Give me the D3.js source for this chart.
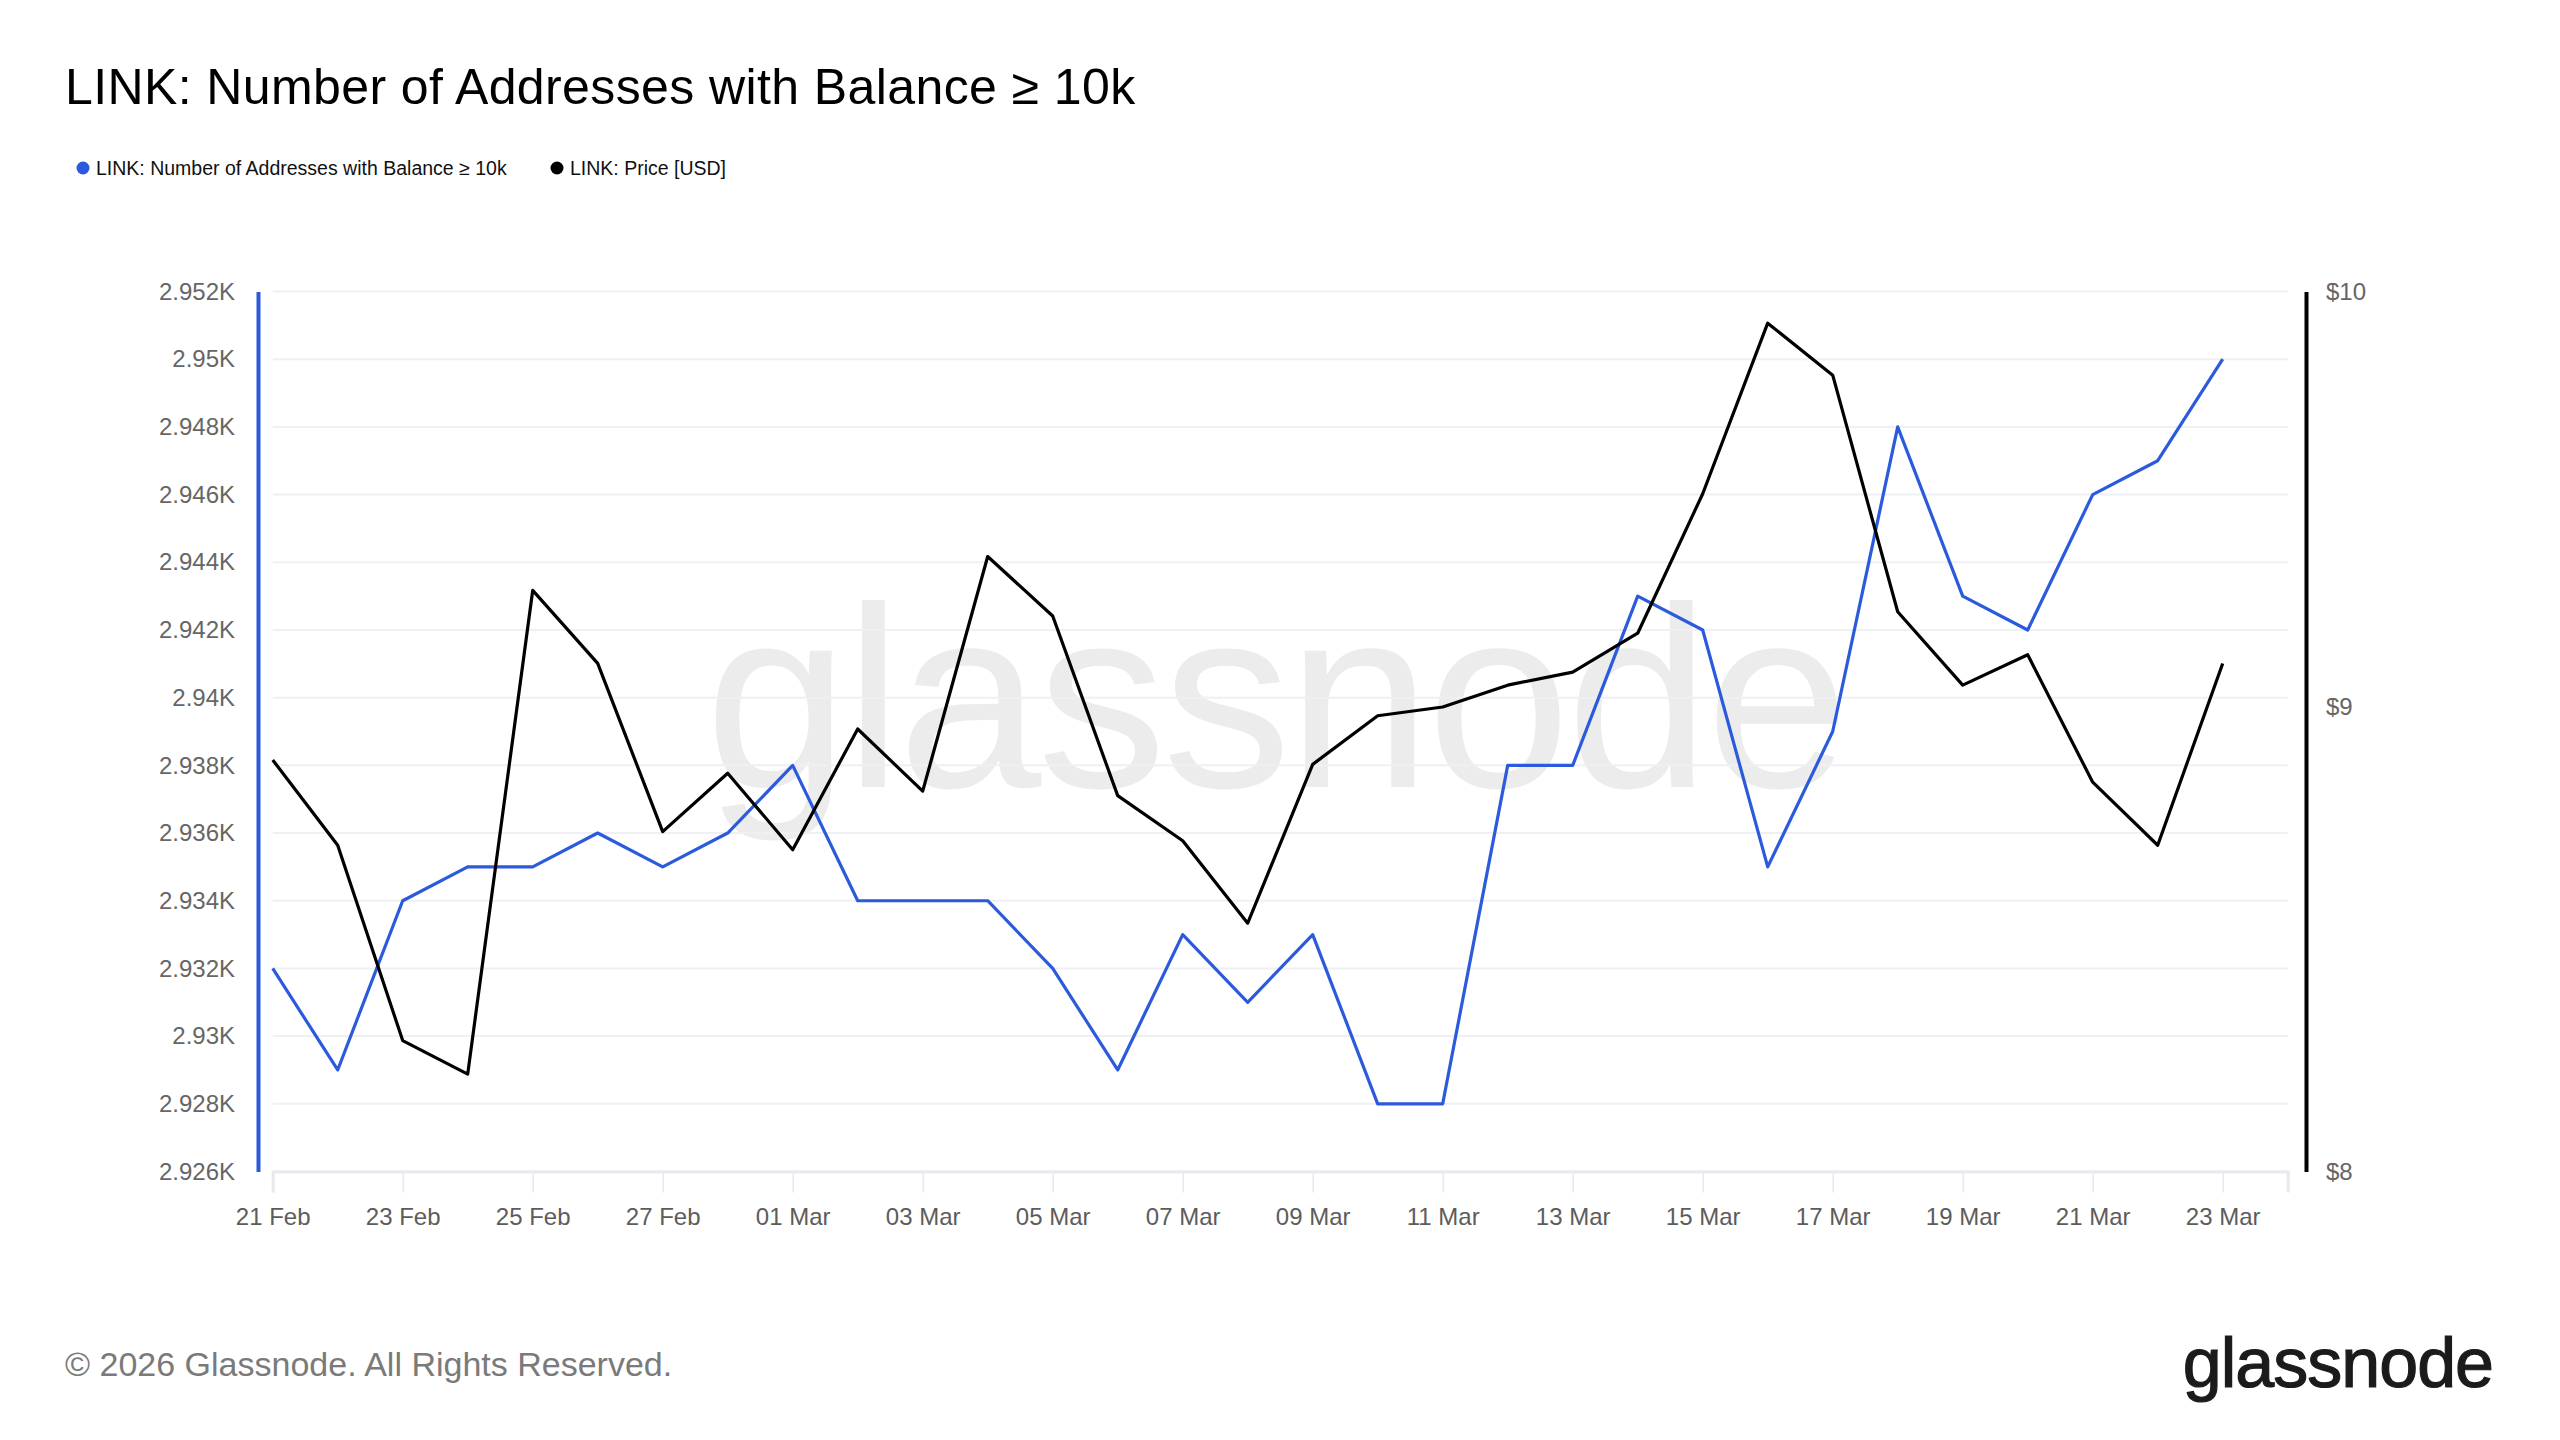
<!DOCTYPE html>
<html>
<head>
<meta charset="utf-8">
<script src="https://cdnjs.cloudflare.com/ajax/libs/d3/7.8.5/d3.min.js"></script>
<style>
	html, body { margin: 0; padding: 0; background: #fff; }
	svg { display: block; font-family: "Liberation Sans", Arial, Helvetica, sans-serif; }
</style>
</head>
<body>
<div id="main"></div>
<script>
// chart data
let dates = ['2026-02-21', '2026-02-22', '2026-02-23', '2026-02-24', '2026-02-25', '2026-02-26', '2026-02-27', '2026-02-28',
	'2026-03-01', '2026-03-02', '2026-03-03', '2026-03-04', '2026-03-05', '2026-03-06', '2026-03-07', '2026-03-08',
	'2026-03-09', '2026-03-10', '2026-03-11', '2026-03-12', '2026-03-13', '2026-03-14', '2026-03-15', '2026-03-16',
	'2026-03-17', '2026-03-18', '2026-03-19', '2026-03-20', '2026-03-21', '2026-03-22', '2026-03-23'];
let addresses = [2932, 2929, 2934, 2935, 2935, 2936, 2935, 2936, 2938, 2934, 2934, 2934, 2932, 2929, 2933, 2931,
	2933, 2928, 2928, 2938, 2938, 2943, 2942, 2935, 2939, 2948, 2943, 2942, 2946, 2947, 2950];
let price = [8.88, 8.69, 8.27, 8.20, 9.27, 9.10, 8.72, 8.85, 8.68, 8.95, 8.81, 9.35, 9.21, 8.80, 8.70, 8.52,
	8.87, 8.98, 9.00, 9.05, 9.08, 9.17, 9.50, 9.92, 9.79, 9.22, 9.05, 9.12, 8.83, 8.69, 9.10];
let xTicks = ['2026-02-21', '2026-02-23', '2026-02-25', '2026-02-27', '2026-03-01', '2026-03-03', '2026-03-05', '2026-03-07',
	'2026-03-09', '2026-03-11', '2026-03-13', '2026-03-15', '2026-03-17', '2026-03-19', '2026-03-21', '2026-03-23'];
let leftTicks = [2926, 2928, 2930, 2932, 2934, 2936, 2938, 2940, 2942, 2944, 2946, 2948, 2950, 2952];
let rightTicks = [8, 9, 10];
let xEnd = '2026-03-24';

let blue = '#2b5bdc';
let width = 2560, height = 1440;
let plotL = 272.7, plotR = 2287.7, plotT = 291.5, plotB = 1171.5;

let parse = d3.utcParse('%Y-%m-%d');
let data = dates.map((d, i) => ({ date: parse(d), addr: addresses[i], price: price[i] }));

let x = d3.scaleUtc().domain([parse(dates[0]), parse(xEnd)]).range([plotL, plotR]);
let yL = d3.scaleLinear().domain([2926, 2952]).range([plotB, plotT]);
// price axis is logarithmic
let yR = d3.scaleLog().domain([8, 10]).range([plotB, plotT]);

let svg = d3.select('#main').append('svg')
	.attr('width', width)
	.attr('height', height);

svg.append('rect').attr('width', width).attr('height', height).attr('fill', '#fff');

// title + legend
svg.append('text')
	.attr('x', 65).attr('y', 104)
	.attr('font-size', 50).attr('fill', '#000')
	.attr('letter-spacing', 0.4)
	.text('LINK: Number of Addresses with Balance ≥ 10k');

let legend = [
	{ label: 'LINK: Number of Addresses with Balance ≥ 10k', color: blue, x: 83 },
	{ label: 'LINK: Price [USD]', color: '#000', x: 557 }
];
let lg = svg.selectAll('.legend').data(legend).enter().append('g').attr('class', 'legend');
lg.append('circle').attr('cx', d => d.x).attr('cy', 168).attr('r', 6.5).attr('fill', d => d.color);
lg.append('text').attr('x', d => d.x + 13).attr('y', 174.5).attr('font-size', 19.5).attr('fill', '#111')
	.text(d => d.label);

// watermark
svg.append('text')
	.attr('x', (plotL + plotR) / 2 - 5).attr('y', 787)
	.attr('text-anchor', 'middle')
	.attr('font-size', 258).attr('fill', '#ececec')
	.attr('letter-spacing', -4)
	.text('glassnode');

// grid
svg.append('g').selectAll('line').data(leftTicks).enter().append('line')
	.attr('x1', plotL).attr('x2', plotR)
	.attr('y1', d => yL(d)).attr('y2', d => yL(d))
	.attr('stroke', '#eef0f4').attr('stroke-width', 2);

// bottom axis
let xAxis = svg.append('g')
	.attr('transform', 'translate(0,' + plotB + ')')
	.call(d3.axisBottom(x)
		.tickValues(xTicks.map(parse))
		.tickFormat(d3.utcFormat('%d %b'))
		.tickSize(21)
		.tickPadding(15));
xAxis.select('.domain').attr('stroke', '#e8e9ee').attr('stroke-width', 3);
xAxis.selectAll('.tick line').attr('stroke', '#e8e9ee').attr('stroke-width', 1.5);
xAxis.selectAll('.tick text').attr('font-size', 24).attr('fill', '#5c5c5c')
	.attr('font-family', '"Liberation Sans", Arial, sans-serif');

// left axis
let fmtK = d3.format('.3~f');
let yAxisL = svg.append('g')
	.attr('transform', 'translate(258,0)')
	.call(d3.axisLeft(yL).tickValues(leftTicks).tickSize(0).tickPadding(23)
		.tickFormat(d => fmtK(d / 1000) + 'K'));
yAxisL.select('.domain').attr('stroke', blue).attr('stroke-width', 4);
yAxisL.selectAll('.tick text').attr('font-size', 24).attr('fill', '#666')
	.attr('font-family', '"Liberation Sans", Arial, sans-serif');

// right axis
let yAxisR = svg.append('g')
	.attr('transform', 'translate(2306,0)')
	.call(d3.axisRight(yR).tickValues(rightTicks).tickSize(0).tickPadding(20)
		.tickFormat(d => '$' + d));
yAxisR.select('.domain').attr('stroke', '#000').attr('stroke-width', 4);
yAxisR.selectAll('.tick text').attr('font-size', 24).attr('fill', '#666')
	.attr('font-family', '"Liberation Sans", Arial, sans-serif');

// lines
let lineL = d3.line().x(d => x(d.date)).y(d => yL(d.addr));
let lineR = d3.line().x(d => x(d.date)).y(d => yR(d.price));

svg.append('path').datum(data)
	.attr('d', lineL)
	.attr('fill', 'none').attr('stroke', blue).attr('stroke-width', 3.2)
	.attr('stroke-linejoin', 'round');

svg.append('path').datum(data)
	.attr('d', lineR)
	.attr('fill', 'none').attr('stroke', '#000').attr('stroke-width', 3.2)
	.attr('stroke-linejoin', 'round');

// footer
svg.append('text')
	.attr('x', 65).attr('y', 1376)
	.attr('font-size', 34).attr('fill', '#7a7a7a')
	.text('© 2026 Glassnode. All Rights Reserved.');

svg.append('text')
	.attr('x', 2493).attr('y', 1387)
	.attr('text-anchor', 'end')
	.attr('font-size', 70).attr('fill', '#1b1b1b')
	.attr('stroke', '#1b1b1b').attr('stroke-width', 1.2)
	.attr('letter-spacing', -1)
	.text('glassnode');
</script>
</body>
</html>
